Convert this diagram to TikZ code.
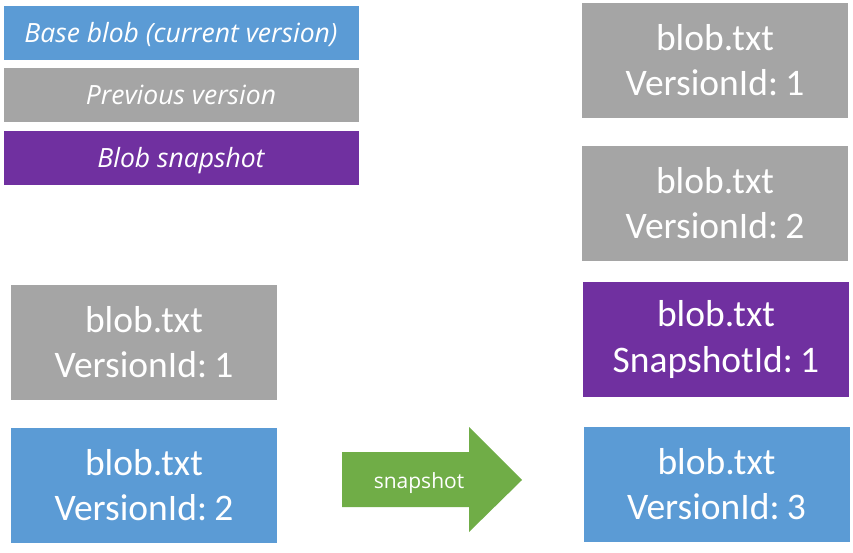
\documentclass[tikz,border=0pt]{standalone}
\usepackage{fontspec}
\setmainfont{Carlito}
\newfontfamily\legfont{Open Sans}
\usetikzlibrary{positioning}
\definecolor{cblue}{HTML}{5B9BD5}
\definecolor{cgray}{HTML}{A5A5A5}
\definecolor{cpurple}{HTML}{7030A0}
\definecolor{cgreen}{HTML}{70AD47}
\newcommand\tightspace{\spaceskip=0.12em plus 0pt minus 0pt\relax}
\tikzset{
  legbox/.style={rectangle, inner sep=0pt, minimum width=355pt, minimum height=54pt, text=white,
    text height=23pt, text depth=4pt,
    font=\legfont\itshape\fontsize{26.5}{30}\selectfont},
  blobbox/.style={rectangle, inner sep=0pt, minimum width=266pt, minimum height=115pt, text=white,
    align=center, font=\fontsize{37.5}{45}\selectfont, execute at begin node=\tightspace},
}
\begin{document}
\begin{tikzpicture}[x=1pt,y=-1pt]
\useasboundingbox (0,0) rectangle (853,553);
% legend
\node[legbox, fill=cblue] (lb) at (181,33) {Base blob (current version)};
\node[legbox, fill=cgray] (lg) at (181,95) {Previous version};
\node[legbox, fill=cpurple] (lp) at (181,158) {Blob snapshot};
% left
\node[blobbox, fill=cgray] (l1) at (144,342) {blob.txt\\VersionId: 1};
\node[blobbox, fill=cblue] (l2) at (144,485.5) {blob.txt\\VersionId: 2};
% right
\node[blobbox, fill=cgray] (r1) at (715,60.5) {blob.txt\\VersionId: 1};
\node[blobbox, fill=cgray] (r2) at (715,203.5) {blob.txt\\VersionId: 2};
\node[blobbox, fill=cpurple] (r3) at (716,339.5) {blob.txt\\SnapshotId: 1};
\node[blobbox, fill=cblue] (r4) at (716.5,484) {blob.txt\\VersionId: 3};
% arrow
\fill[cgreen] (342,452) -- (469,452) -- (469,427) -- (522,480) -- (469,532) -- (469,507) -- (342,507) -- cycle;
\node[text=white, text height=18pt, text depth=2pt, font=\legfont\fontsize{21}{24}\selectfont] (arr) at (419,480) {snapshot};
\end{tikzpicture}
\end{document}
